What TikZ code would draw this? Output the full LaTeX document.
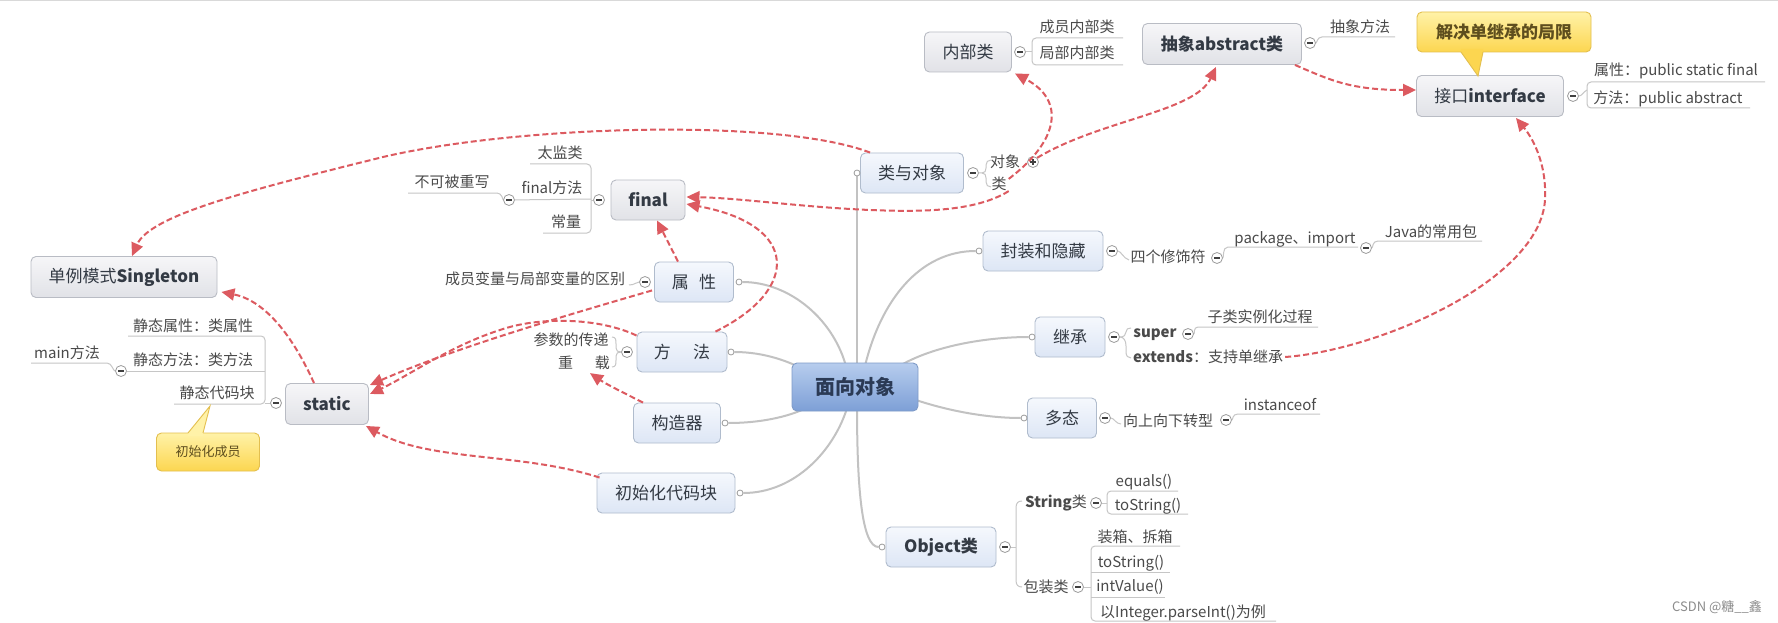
\documentclass[tikz,border=0pt]{standalone}
\usepackage{fontspec}
\setmainfont{Noto Sans CJK SC}
\usetikzlibrary{arrows.meta,calc}
\pgfdeclarelayer{bg}
\pgfdeclarelayer{paper}
\pgfsetlayers{paper,bg,main}
\definecolor{relc}{HTML}{DC5A60}
\definecolor{connc}{HTML}{C2C2C2}
\definecolor{brc}{HTML}{C6C6C6}
\definecolor{labc}{HTML}{4A4A4A}
\definecolor{boxtxt}{HTML}{333A44}
\definecolor{l1bd}{HTML}{B0BCCD}
\definecolor{flbd}{HTML}{B9BCC4}
\definecolor{colbd}{HTML}{9C9C9C}
\definecolor{rootbd}{HTML}{7F9BC8}
\definecolor{yelbd}{HTML}{E3BF4F}
\definecolor{yelbot}{HTML}{FCD650}
\definecolor{yeltop}{HTML}{FFF2A8}
\definecolor{calltxt}{HTML}{5E4E1E}
\definecolor{roottop}{HTML}{B7CDEE}
\definecolor{rootbot}{HTML}{7D9FD6}
\definecolor{roottxt}{HTML}{2B3A55}
\definecolor{l1top}{HTML}{F5F8FD}
\definecolor{l1bot}{HTML}{DDE6F5}
\definecolor{fltop}{HTML}{F6F6F8}
\definecolor{flbot}{HTML}{E1E2E7}
\tikzset{
  mm-box/.style={rounded corners=5pt, line width=0.9pt, minimum height=40pt, inner sep=0pt,
    font=\fontsize{17}{20}\selectfont, text=boxtxt},
  mm-root/.style={mm-box, draw=rootbd, top color=roottop, bottom color=rootbot,
    font=\fontsize{20}{22}\selectfont\bfseries, text=roottxt},
  mm-l1/.style={mm-box, draw=l1bd, top color=l1top, bottom color=l1bot},
  mm-fl/.style={mm-box, draw=flbd, top color=fltop, bottom color=flbot},
  mm-call/.style={mm-box, draw=yelbd, top color=yeltop, bottom color=yelbot, text=calltxt},
  mm-lab/.style={inner sep=0pt, font=\fontsize{15}{17}\selectfont, text=labc},
  mm-br/.style={draw=brc, line width=1pt},
  mm-conn/.style={draw=connc, line width=2pt},
  mm-col/.style={circle, draw=colbd, fill=white, line width=0.8pt, minimum size=11pt, inner sep=0pt,
    path picture={\draw[line width=1.8pt, black!75] ([xshift=-2.8pt]path picture bounding box.center) -- ([xshift=2.8pt]path picture bounding box.center);}},
  mm-plus/.style={mm-col, path picture={\draw[line width=1.8pt, black!75] ([xshift=-2.8pt]path picture bounding box.center) -- ([xshift=2.8pt]path picture bounding box.center) ([yshift=-2.8pt]path picture bounding box.center) -- ([yshift=2.8pt]path picture bounding box.center);}},
  mm-pt/.style={circle, draw=colbd, fill=white, line width=0.8pt, minimum size=6pt, inner sep=0pt},
  mm-rel/.style={draw=relc, line width=2pt, dash pattern=on 6pt off 3pt,
    -{Triangle[length=13pt,width=12pt,fill=relc]}},
}
\begin{document}
\begin{tikzpicture}[x=1pt,y=-1pt]
\useasboundingbox (0,0) rectangle (1778,623);
\begin{pgfonlayer}{paper}
\fill[white] (0,0) rectangle (1778,623);
\draw[black!15, line width=1.5pt] (0,0.75) -- (1778,0.75);
\end{pgfonlayer}

% ---------- main boxes ----------
\node[mm-root, minimum width=126pt, minimum height=48pt] (root) at (855,387) {面向对象};

\node[mm-l1, minimum width=103pt] (lydx) at (912,173) {类与对象};
\node[mm-l1, minimum width=120pt] (fz) at (1043,251) {封装和隐藏};
\node[mm-l1, minimum width=70pt] (jc) at (1070,337) {继承};
\node[mm-l1, minimum width=69pt] (dt) at (1062,418) {多态};
\node[mm-l1, minimum width=110pt] (obj) at (941,547) {\bfseries Object类};
\node[mm-l1, minimum width=79pt] (sx) at (694,282) {属\hspace{0.6em}性};
\node[mm-l1, minimum width=90pt] (ff) at (682,352) {方\hspace{1.3em}法};
\node[mm-l1, minimum width=87pt] (gzq) at (677,423) {构造器};
\node[mm-l1, minimum width=138pt] (csh) at (666,493) {初始化代码块};

\node[mm-fl, minimum width=74pt] (final) at (648,200) {\bfseries final};
\node[mm-fl, minimum width=83pt, minimum height=41pt] (static) at (327,404) {\bfseries static};
\node[mm-fl, minimum width=186pt, minimum height=41pt] (single) at (124,277) {单例模式\textbf{Singleton}};
\node[mm-fl, minimum width=87pt] (nbl) at (968,52) {内部类};
\node[mm-fl, minimum width=159pt, minimum height=41pt] (abs) at (1222,44) {\bfseries 抽象abstract类};
\node[mm-fl, minimum width=147pt, minimum height=41pt] (intf) at (1490,96) {接口\textbf{interface}};

% ---------- callouts ----------
\node[mm-call, minimum width=174pt, minimum height=40pt, font=\fontsize{17}{20}\selectfont\bfseries] (jj) at (1504,32) {解决单继承的局限};
\fill[yelbot] (1461,52) -- (1478,76) -- (1483,52) -- (1483,49) -- (1461,49) -- cycle;
\draw[yelbd, line width=0.9pt] (1461,52) -- (1478,76) -- (1483,52);
\node[mm-call, minimum width=103pt, minimum height=38pt, font=\fontsize{13}{15}\selectfont] (cshcy) at (208,452) {初始化成员};
\fill[yeltop] (188,433) -- (210,406) -- (203,433) -- (203,436) -- (188,436) -- cycle;
\draw[yelbd, line width=0.9pt] (188,433) -- (210,406) -- (203,433);

% ---------- labels ----------
\node[mm-lab] (tjl) at (560,153) {太监类};
\node[mm-lab] (ffm) at (552,188) {final方法};
\node[mm-lab] (cl) at (566,222) {常量};
\node[mm-lab] (bkb) at (452,182) {不可被重写};
\node[mm-lab] (cybl) at (535,279) {成员变量与局部变量的区别};
\node[mm-lab] (cs) at (571,340) {参数的传递};
\node[mm-lab] (zz) at (584,363) {重\hspace{22pt}载};
\node[mm-lab] (jtsx) at (193,326) {静态属性：类属性};
\node[mm-lab] (jtff) at (193,360) {静态方法：类方法};
\node[mm-lab] (jtdm) at (217,393) {静态代码块};
\node[mm-lab] (main) at (67,353) {main方法};
\node[mm-lab] (cynb) at (1077,27) {成员内部类};
\node[mm-lab] (jbnb) at (1077,53) {局部内部类};
\node[mm-lab] (dx) at (1005,162) {对象};
\node[mm-lab] (lei) at (999,184) {类};
\node[mm-lab] (cxff) at (1360,27) {抽象方法};
\node[mm-lab] (ipro) at (1676,71) {属性：public static final};
\node[mm-lab] (imet) at (1668,99) {方法：public abstract};
\node[mm-lab] (sgxs) at (1168,257) {四个修饰符};
\node[mm-lab] (pkg) at (1295,239) {package、import};
\node[mm-lab] (java) at (1431,232) {Java的常用包};
\node[mm-lab] (super) at (1155,335) {\bfseries super};
\node[mm-lab, anchor=west] (ext) at (1133,357) {\textbf{extends}：支持单继承};
\node[mm-lab] (zlsl) at (1260,317) {子类实例化过程};
\node[mm-lab] (xsxx) at (1168,421) {向上向下转型};
\node[mm-lab] (inst) at (1280,405) {instanceof};
\node[mm-lab] (strl) at (1056,503) {\textbf{String}类};
\node[mm-lab] (bzl) at (1046,587) {包装类};
\node[mm-lab] (eq) at (1144,482) {equals()};
\node[mm-lab] (ts1) at (1148,506) {toString()};
\node[mm-lab] (zx) at (1135,537) {装箱、拆箱};
\node[mm-lab] (ts2) at (1131,563) {toString()};
\node[mm-lab] (iv) at (1130,587) {intValue()};
\node[mm-lab] (pi) at (1183,613) {以Integer.parseInt()为例};
\node[font=\fontsize{13}{15}\selectfont, text=black!45, inner sep=0pt] (wm) at (1717,607) {CSDN @糖\_\_鑫};

% ---------- collapse circles ----------
\node[mm-col] (cfinal) at (599,200) {};
\node[mm-col] (cf2) at (509,200) {};
\node[mm-col] (cstatic) at (276,403) {};
\node[mm-col] (cmain) at (121,371) {};
\node[mm-col] (cattr) at (645,282) {};
\node[mm-col] (cmeth) at (627,352) {};
\node[mm-col] (ccls) at (973,173) {};
\node[mm-plus] (cplus) at (1033,162) {};
\node[mm-col] (cinner) at (1020,52) {};
\node[mm-col] (cabs) at (1310,43) {};
\node[mm-col] (cintf) at (1573,96) {};
\node[mm-col] (cenc) at (1112,251) {};
\node[mm-col] (cmod) at (1217,258) {};
\node[mm-col] (cpkg) at (1366,248) {};
\node[mm-col] (cinh) at (1114,337) {};
\node[mm-col] (csuper) at (1188,334) {};
\node[mm-col] (cpoly) at (1105,418) {};
\node[mm-col] (ccast) at (1226,420) {};
\node[mm-col] (cobj) at (1005,547) {};
\node[mm-col] (cstr) at (1096,503) {};
\node[mm-col] (cwrap) at (1078,587) {};

% ---------- connection points ----------
\node[mm-pt] (dlydx) at (857,173) {};
\node[mm-pt] (dfz) at (979,251) {};
\node[mm-pt] (djc) at (1032,337) {};
\node[mm-pt] (ddt) at (1024,418) {};
\node[mm-pt] (dobj) at (882,547) {};
\node[mm-pt] (dsx) at (739,282) {};
\node[mm-pt] (dff) at (731,352) {};
\node[mm-pt] (dgzq) at (725,423) {};
\node[mm-pt] (dcsh) at (740,493) {};

\begin{pgfonlayer}{bg}
% root connectors
\draw[mm-conn] (dsx) .. controls (790,282) and (835,320) .. (847,370);
\draw[mm-conn] (dff) .. controls (765,352) and (790,362) .. (805,370);
\draw[mm-conn] (dgzq) .. controls (765,423) and (795,415) .. (812,405);
\draw[mm-conn] (dcsh) .. controls (795,493) and (835,450) .. (848,405);
\draw[mm-conn] (857,370) -- (dlydx);
\draw[mm-conn] (864,370) .. controls (880,300) and (920,251) .. (dfz);
\draw[mm-conn] (893,370) .. controls (930,345) and (990,337) .. (djc);
\draw[mm-conn] (910,398) .. controls (950,412) and (990,418) .. (ddt);
\draw[mm-conn] (857,405) .. controls (857,490) and (862,547) .. (dobj);

% branches: final
\draw[mm-br] (cfinal) -- (591,200);
\draw[mm-br, rounded corners=4pt] (530,164) -- (591,164) -- (591,233) -- (543,233);
\draw[mm-br] (591,199) -- (cf2);
\draw[mm-br] (cf2) .. controls (503,200) and (502,193) .. (497,193) -- (408,193);
% static
\draw[mm-br] (cstatic) -- (265,403);
\draw[mm-br, rounded corners=4pt] (128,336) -- (265,336) -- (265,404) -- (174,404);
\draw[mm-br] (265,371) -- (cmain);
\draw[mm-br] (cmain) .. controls (113,371) and (112,363) .. (107,363) -- (31,363);
% attr, method
\draw[mm-br] (cattr) .. controls (636,282) and (635,285) .. (629,285);
\draw[mm-br] (612,337) .. controls (616,337) and (616,340) .. (616,344) -- (616,348) .. controls (616,351) and (618,352) .. (cmeth);
\draw[mm-br] (612,367) .. controls (616,367) and (616,364) .. (616,360) -- (616,356) .. controls (616,353) and (618,352) .. (cmeth);
% class & object
\draw[mm-br] (ccls) -- (982,173) .. controls (985,173) and (986,171) .. (986,168) -- (986,165) .. controls (986,162) and (988,160) .. (991,160);
\draw[mm-br] (982,173) .. controls (985,173) and (986,175) .. (986,178) -- (986,182) .. controls (986,185) and (988,187) .. (991,187);
% inner class
\draw[mm-br] (cinner) -- (1032,52);
\draw[mm-br, rounded corners=4pt] (1123,38) -- (1032,38) -- (1032,65) -- (1123,65);
% abstract
\draw[mm-br] (cabs) .. controls (1317,43) and (1317,37) .. (1322,37) -- (1395,37);
% interface
\draw[mm-br] (cintf) .. controls (1582,96) and (1583,92) .. (1587,90);
\draw[mm-br, rounded corners=4pt] (1765,82) -- (1587,82) -- (1587,108) -- (1750,108);
% encapsulation
\draw[mm-br] (cenc) .. controls (1121,251) and (1123,258) .. (1129,260);
\draw[mm-br] (cmod) .. controls (1224,258) and (1222,247) .. (1228,247) -- (1358,247);
\draw[mm-br] (cpkg) .. controls (1373,248) and (1372,241) .. (1378,241) -- (1482,241);
% inheritance
\draw[mm-br] (cinh) .. controls (1124,337) and (1126,335) .. (1126,332) .. controls (1126,329) and (1128,328) .. (1131,328);
\draw[mm-br] (cinh) .. controls (1124,337) and (1126,341) .. (1126,346) -- (1126,352) .. controls (1126,356) and (1128,358) .. (1131,358);
\draw[mm-br] (csuper) .. controls (1195,334) and (1193,327) .. (1198,327) -- (1318,327);
% polymorphism
\draw[mm-br] (cpoly) .. controls (1114,418) and (1116,424) .. (1121,424);
\draw[mm-br] (ccast) .. controls (1233,420) and (1232,414) .. (1238,414) -- (1320,414);
% Object
\draw[mm-br] (cobj) -- (1016,547);
\draw[mm-br] (1022,501) .. controls (1018,501) and (1016,503) .. (1016,508) -- (1016,580) .. controls (1016,585) and (1018,587) .. (1022,587);
\draw[mm-br] (cstr) -- (1107,503);
\draw[mm-br, rounded corners=4pt] (1178,491) -- (1107,491) -- (1107,514) -- (1188,514);
\draw[mm-br] (cwrap) -- (1091,587);
\draw[mm-br, rounded corners=4pt] (1180,546) -- (1091,546) -- (1091,621) -- (1276,621);
\draw[mm-br] (1091,572) -- (1170,572);
\draw[mm-br] (1091,597) -- (1165,597);
\end{pgfonlayer}

% ---------- relation arrows ----------
\draw[mm-rel] ($(lydx.north west)+(10,0)$) .. controls (780,118) and (520,125) .. (383,157) .. controls (250,190) and (150,215) .. ($(single.north)+(8,0)$);
\draw[mm-rel] ($(static.north)+(-13,0)$) .. controls (290,330) and (262,300) .. ($(single.south east)+(4,-6)$);
\draw[mm-rel] ($(lei.south east)+(2,0)$) .. controls (975,212) and (920,212) .. (870,210) .. controls (800,207) and (740,198) .. ($(final.east)+(1,-3)$);
\draw[mm-rel] ($(sx.north)+(-16,0)$) -- ($(final.south)+(9,0)$);
\draw[mm-rel] ($(ff.north east)+(-12,0)$) .. controls (800,290) and (800,225) .. ($(final.east)+(1,4)$);
\draw[mm-rel] ($(sx.south west)+(-2,-12)$) .. controls (550,320) and (450,350) .. ($(static.east)+(1,-19)$);
\draw[mm-rel] ($(ff.north west)+(0,4)$) .. controls (600,318) and (540,316) .. (500,330) .. controls (450,346) and (410,375) .. ($(static.east)+(1,-10)$);
\draw[mm-rel] ($(csh.north west)+(3,5)$) .. controls (520,452) and (430,462) .. ($(static.south east)+(-3,1)$);
\draw[mm-rel] ($(gzq.north west)+(10,0)$) .. controls (622,392) and (606,384) .. ($(zz.south)+(6,3)$);
\draw[mm-rel] ($(lei.north east)+(2,2)$) .. controls (1060,140) and (1065,100) .. ($(nbl.south east)+(3,1)$);
\draw[mm-rel] (cplus.north east) .. controls (1100,120) and (1195,112) .. ($(abs.south)+(-6,2)$);
\draw[mm-rel] ($(abs.south east)+(-7,0)$) .. controls (1330,80) and (1350,90) .. ($(intf.west)+(0,-6)$);
\draw[mm-rel] ($(ext.east)+(2,0)$) .. controls (1380,350) and (1540,280) .. (1545,200) .. controls (1547,160) and (1530,135) .. ($(intf.south)+(26,1)$);
\end{tikzpicture}
\end{document}
